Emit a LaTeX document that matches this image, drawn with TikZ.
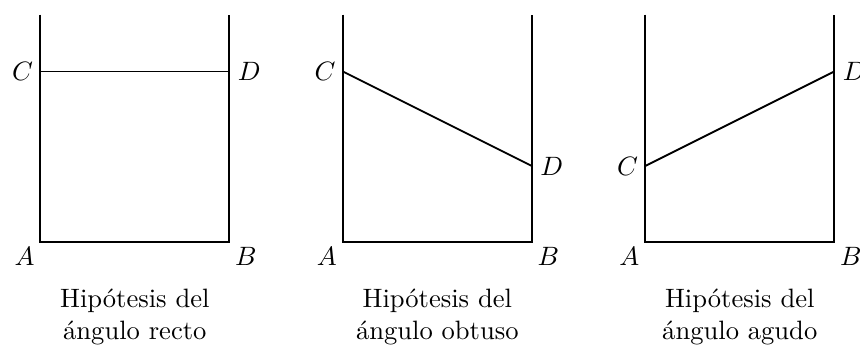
\documentclass[tikz,border=0pt]{standalone}
\usepackage{fontspec}
\usetikzlibrary{positioning}

\begin{document}
\begin{tikzpicture}[
    font=\normalsize,
    every node/.style={scale=2},
    side/.style={line width=1.4pt},
    lbl/.style={inner sep=2pt},
    caption/.style={align=center, anchor=north}
  ]
    \useasboundingbox (-1.066,-2.79) rectangle (21.68,6.39);

    % hipotesis del angulo recto
    \coordinate (A1) at (0,0);
    \coordinate (B1) at (5,0);
    \coordinate (C1) at (0,4.5);
    \coordinate (D1) at (5,4.5);
    \coordinate (topl1) at (0,6);
    \coordinate (topr1) at (5,6);
    \draw[side] (topl1) -- (A1) -- (B1) -- (topr1);
    \draw[side] (C1) -- (D1);
    \node[lbl, below left=0pt of A1] (labA1) {$A$};
    \node[lbl, below right=0pt of B1] (labB1) {$B$};
    \node[lbl, left=1pt of C1] (labC1) {$C$};
    \node[lbl, right=2pt of D1] (labD1) {$D$};
    \node[caption] (cap1) at (2.5,-1.0) {Hipótesis del\\ángulo recto};

    % hipotesis del angulo obtuso
    \coordinate (A2) at (8,0);
    \coordinate (B2) at (13,0);
    \coordinate (C2) at (8,4.5);
    \coordinate (D2) at (13,2);
    \coordinate (topl2) at (8,6);
    \coordinate (topr2) at (13,6);
    \draw[side] (topl2) -- (A2) -- (B2) -- (topr2);
    \draw[side] (C2) -- (D2);
    \node[lbl, below left=0pt of A2] (labA2) {$A$};
    \node[lbl, below right=0pt of B2] (labB2) {$B$};
    \node[lbl, left=1pt of C2] (labC2) {$C$};
    \node[lbl, right=2pt of D2] (labD2) {$D$};
    \node[caption] (cap2) at (10.5,-1.0) {Hipótesis del\\ángulo obtuso};

    % hipotesis del angulo agudo
    \coordinate (A3) at (16,0);
    \coordinate (B3) at (21,0);
    \coordinate (C3) at (16,2);
    \coordinate (D3) at (21,4.5);
    \coordinate (topl3) at (16,6);
    \coordinate (topr3) at (21,6);
    \draw[side] (topl3) -- (A3) -- (B3) -- (topr3);
    \draw[side] (C3) -- (D3);
    \node[lbl, below left=0pt of A3] (labA3) {$A$};
    \node[lbl, below right=0pt of B3] (labB3) {$B$};
    \node[lbl, left=1pt of C3] (labC3) {$C$};
    \node[lbl, right=2pt of D3] (labD3) {$D$};
    \node[caption] (cap3) at (18.5,-1.0) {Hipótesis del\\ángulo agudo};
\end{tikzpicture}
\end{document}
